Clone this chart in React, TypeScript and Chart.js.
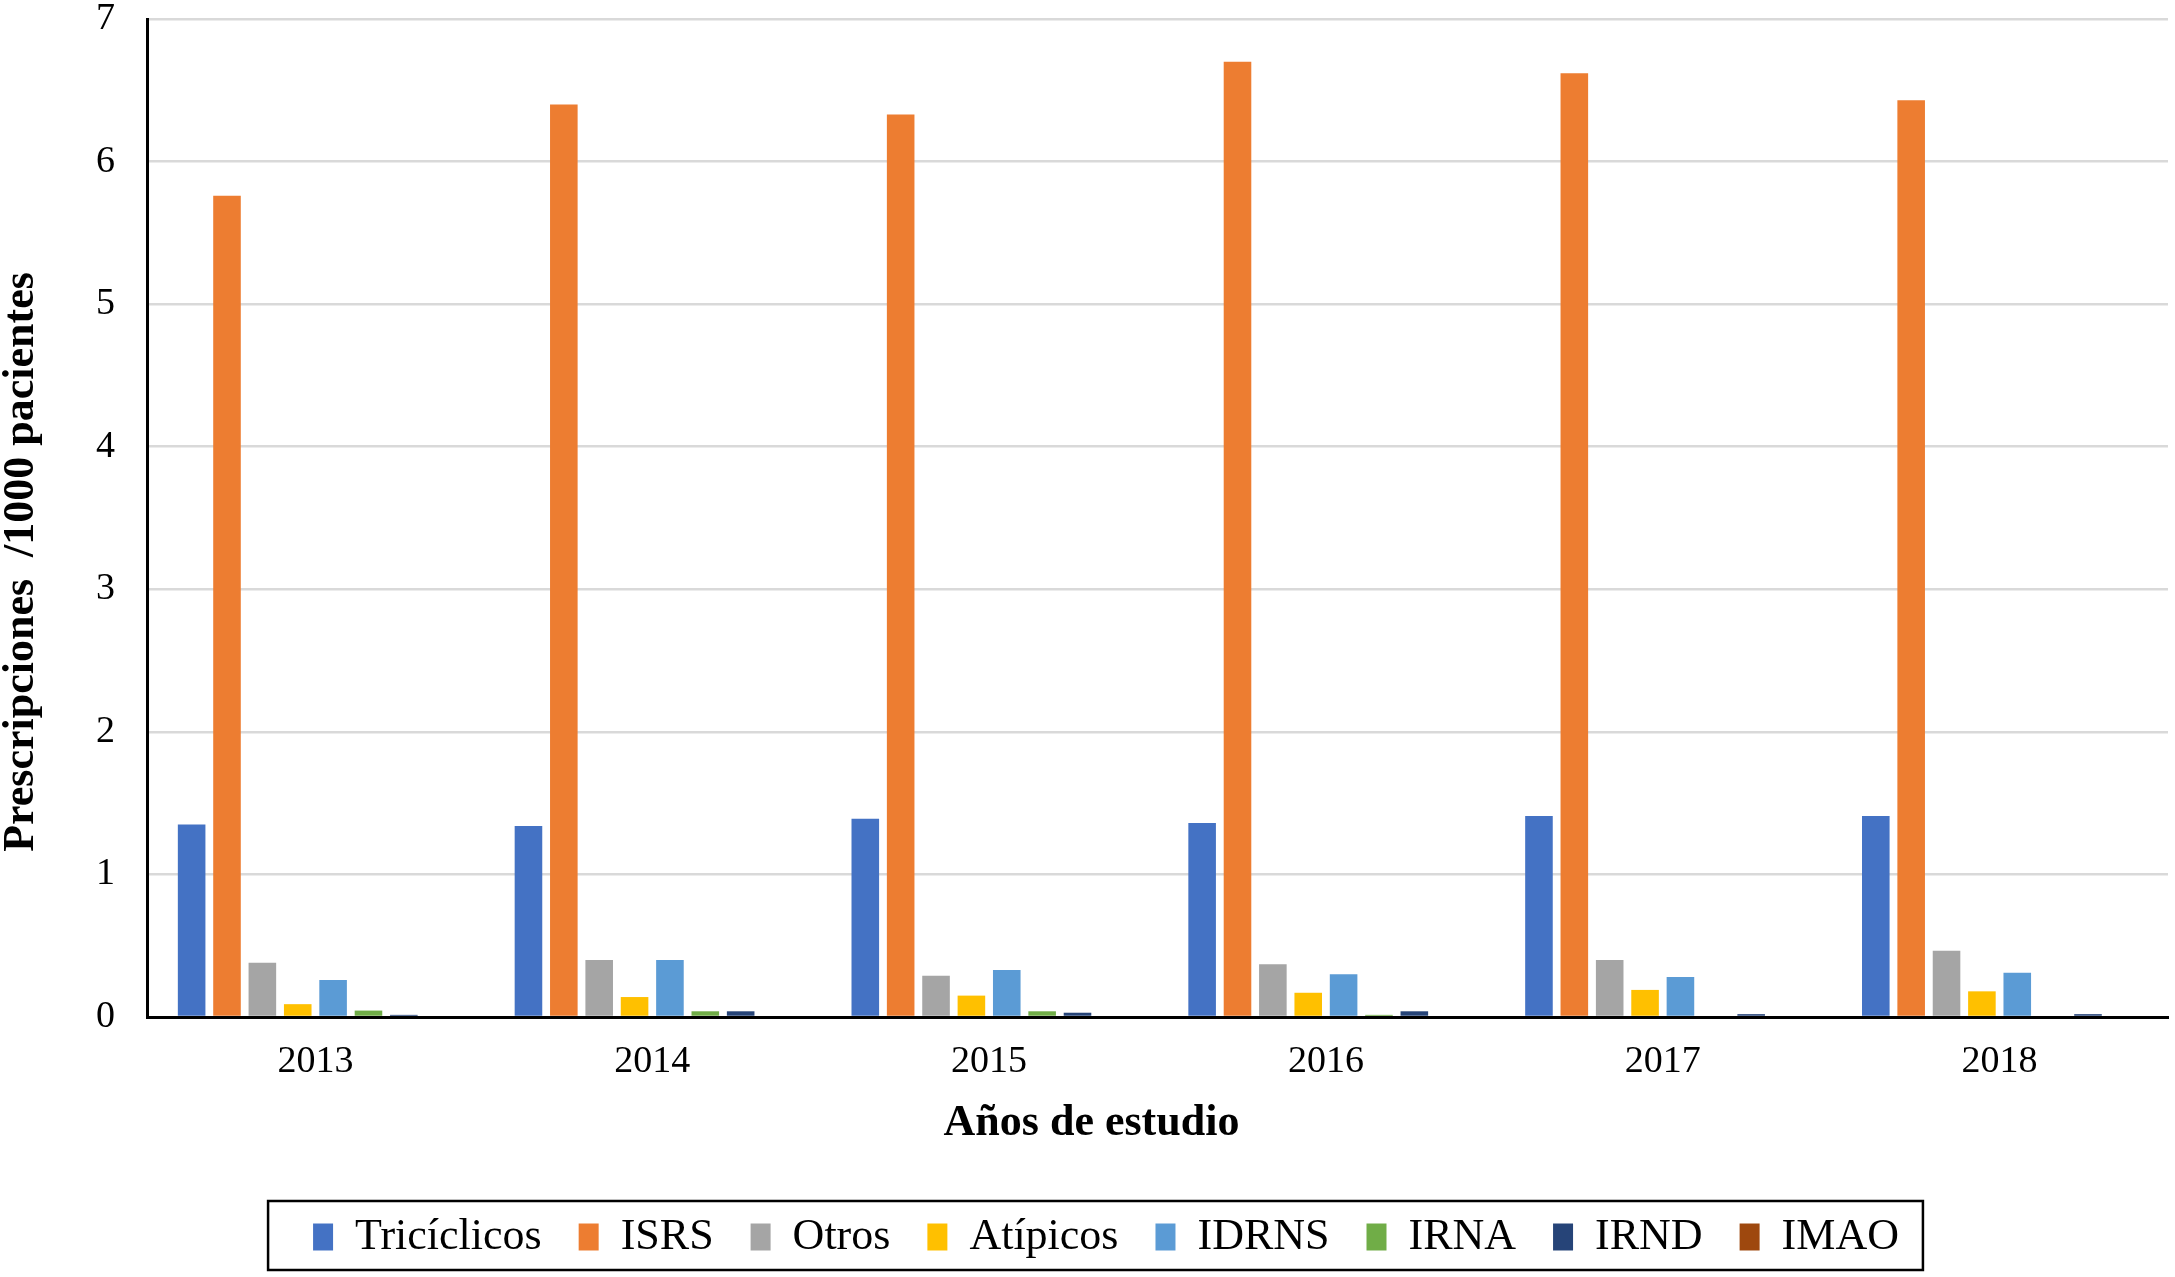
import React, { useEffect, useRef } from "react";
import { Chart, registerables } from "chart.js";

Chart.register(...registerables);

const years = ["2013", "2014", "2015", "2016", "2017", "2018"];
const seriesNames = ["Tricíclicos", "ISRS", "Otros", "Atípicos", "IDRNS", "IRNA", "IRND", "IMAO"];
const triciclicos = [1.35, 1.34, 1.39, 1.36, 1.41, 1.41];
const isrs = [5.76, 6.4, 6.33, 6.7, 6.62, 6.43];
const otros = [0.38, 0.4, 0.29, 0.37, 0.4, 0.465];
const atipicos = [0.09, 0.14, 0.15, 0.17, 0.19, 0.18];
const idrns = [0.26, 0.4, 0.33, 0.3, 0.28, 0.31];
const irna = [0.045, 0.04, 0.04, 0.015, 0, 0];
const irnd = [0.015, 0.04, 0.03, 0.04, 0.02, 0.02];
const imao = [0, 0, 0, 0, 0, 0];
const seriesValues = [triciclicos, isrs, otros, atipicos, idrns, irna, irnd, imao];
const seriesColors = ["#4472C4", "#ED7D31", "#A5A5A5", "#FFC000", "#5B9BD5", "#70AD47", "#264478", "#9E480E"];
const yTitle = "Prescripciones  /1000 pacientes";
const xTitle = "Años de estudio";

const FONT = "'Liberation Serif', 'Times New Roman', Times, serif";

const legendFrame = {
  id: "legendFrame",
  afterUpdate(chart: any) {
    const lg = chart.legend;
    if (!lg) return;
    lg.left += 22;
    lg.right += 22;
    if (typeof lg.adjustHitBoxes === "function") lg.adjustHitBoxes();
  },
  afterDraw(chart: any) {
    const lg = chart.legend;
    if (!lg || !lg.lineWidths) return;
    const pad = lg.options.labels.padding;
    const lw = lg.lineWidths[0];
    const startX = (lg.left + pad + lg.right - lw) / 2;
    const endX = startX + lw - pad;
    const itemTop = lg.top + pad;
    const left = startX - 45;
    const right = endX + 24;
    const top = itemTop - 14;
    const bottom = itemTop + 55;
    const ctx = chart.ctx;
    ctx.save();
    ctx.strokeStyle = "#000";
    ctx.lineWidth = 2.5;
    ctx.strokeRect(left, top, right - left, bottom - top);
    ctx.restore();
  },
};

export default function App() {
  const ref = useRef<HTMLCanvasElement>(null);

  useEffect(() => {
    if (!ref.current) return;
    const chart = new Chart(ref.current, {
      type: "bar",
      data: {
        labels: years,
        datasets: seriesNames.map((name, i) => ({
          label: name,
          data: seriesValues[i],
          backgroundColor: seriesColors[i],
          borderWidth: 0,
          categoryPercentage: 0.84,
          barPercentage: 0.78,
        })),
      },
      options: {
        responsive: false,
        animation: false,
        layout: { padding: { left: 0, right: 7, top: 0, bottom: 8 } },
        plugins: {
          tooltip: { enabled: false },
          legend: {
            position: "bottom",
            labels: {
              boxWidth: 20,
              boxHeight: 27,
              padding: 37,
              color: "#000",
              font: { family: FONT, size: 44 },
            },
          },
        },
        scales: {
          x: {
            grid: {
              display: true,
              drawOnChartArea: false,
              drawTicks: true,
              tickLength: 26,
              tickColor: "rgba(0,0,0,0)",
            },
            border: { display: true, color: "#000", width: 3 },
            ticks: {
              color: "#000",
              padding: 0,
              font: { family: FONT, size: 38, lineHeight: 1 },
            },
            title: {
              display: true,
              text: xTitle + "            ",
              color: "#000",
              font: { family: FONT, size: 44, weight: "bold", lineHeight: 1 },
              padding: { top: 21, bottom: 32 },
            },
          },
          y: {
            min: 0,
            max: 7,
            ticks: {
              stepSize: 1,
              color: "#000",
              padding: 0,
              font: { family: FONT, size: 38, lineHeight: 1 },
            },
            grid: {
              color: "#d9d9d9",
              lineWidth: 2.5,
              drawTicks: true,
              tickLength: 32,
              tickColor: "rgba(0,0,0,0)",
            },
            border: { display: true, color: "#000", width: 3 },
            title: {
              display: true,
              text: yTitle + "        ",
              color: "#000",
              font: { family: FONT, size: 44, weight: "bold", lineHeight: 1 },
              padding: { top: 0, bottom: 52 },
            },
          },
        },
      },
      plugins: [legendFrame],
    });
    return () => chart.destroy();
  }, []);

  return (
    <div style={{ position: "absolute", left: 0, top: 0, width: 2175, height: 1277, background: "#fff" }}>
      <canvas ref={ref} width={2175} height={1277} style={{ display: "block", width: 2175, height: 1277 }} />
    </div>
  );
}
